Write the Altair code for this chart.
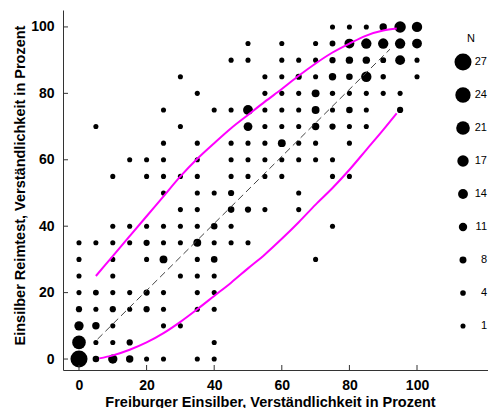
import altair as alt
import pandas as pd

# ---- bubble data: one row per y level (percent), x positions and counts N
row_y = [100, 95, 90, 85, 80, 75, 70, 65, 60, 55, 50, 45, 40, 35, 30, 25, 20, 15, 10, 5, 0]
row_x = [
    [75, 80, 85, 90, 95, 100],
    [50, 60, 70, 75, 80, 85, 90, 95, 100],
    [45, 50, 60, 65, 70, 75, 80, 85, 90, 95, 100],
    [30, 55, 60, 65, 70, 75, 80, 85, 90, 100],
    [35, 55, 60, 65, 70, 75, 80, 85, 90, 95],
    [25, 40, 45, 50, 55, 60, 65, 70, 75, 80, 85, 95],
    [5, 30, 50, 55, 60, 65, 70, 75, 80, 85],
    [25, 35, 45, 50, 55, 60, 65, 70, 80],
    [15, 20, 25, 35, 45, 50, 55, 60, 65, 70, 75],
    [10, 20, 25, 30, 35, 45, 50, 55, 60, 75, 80],
    [25, 35, 40, 45, 65],
    [30, 35, 45, 50, 55, 65],
    [10, 15, 20, 25, 30, 35, 40, 45, 75],
    [0, 5, 10, 15, 20, 25, 30, 35, 40, 45, 50],
    [0, 10, 20, 25, 35, 40, 70],
    [0, 10, 30, 35, 40],
    [0, 5, 10, 15, 20, 25, 35, 40],
    [0, 5, 10, 15, 20, 25, 35, 40],
    [0, 5, 10, 25, 30],
    [0, 5, 10, 15, 40],
    [0, 5, 10, 15, 20, 25, 35, 40],
]
row_n = [
    [1, 1, 1, 9, 17, 15],
    [1, 1, 1, 5, 14, 15, 15, 15, 14],
    [1, 1, 1, 1, 1, 6, 9, 9, 5, 14, 1],
    [1, 1, 1, 6, 1, 9, 7, 15, 3, 1],
    [1, 1, 1, 1, 10, 3, 1, 1, 1, 1],
    [1, 1, 1, 14, 1, 1, 1, 10, 1, 7, 1, 6],
    [1, 1, 12, 1, 1, 1, 9, 6, 1, 1],
    [1, 1, 1, 1, 1, 10, 1, 1, 1],
    [1, 1, 1, 1, 1, 1, 1, 1, 1, 1, 1],
    [1, 1, 1, 1, 1, 1, 1, 1, 1, 1, 1],
    [1, 1, 1, 6, 1],
    [1, 1, 7, 6, 1, 1],
    [1, 1, 1, 1, 1, 1, 7, 1, 1],
    [1, 1, 1, 1, 6, 1, 1, 10, 1, 1, 1],
    [1, 1, 1, 10, 1, 7, 1],
    [1, 1, 1, 1, 1],
    [1, 5, 1, 1, 6, 1, 1, 1],
    [6, 1, 6, 1, 6, 1, 1, 1],
    [13, 9, 1, 1, 1],
    [21, 1, 1, 6, 1],
    [27, 7, 13, 9, 1, 1, 1, 1],
]

# ---- magenta confidence curves
upper_x = [5, 10, 15, 20, 25, 30, 35, 40, 45, 50, 55, 60, 65, 70, 75, 80, 85, 90, 94]
upper_y = [25, 31, 37, 43, 49, 55, 60.3, 65, 69.5, 73.5, 77.5, 81.3, 85.3, 89, 92.3, 95, 97.4, 98.9, 99.5]
lower_x = [6, 10, 15, 20, 25, 30, 35, 40, 45, 50, 55, 60, 65, 70, 75, 80, 85, 90, 94]
lower_y = [0.2, 1.1, 2.8, 5, 7.8, 11.2, 15, 19, 23, 27.3, 31.5, 36.2, 41.2, 46.5, 51.5, 57, 63, 69, 74]

# ---- dashed regression line
diag_x = [5.5, 92]
diag_y = [6, 93.3]

tick_values = [0, 20, 40, 60, 80, 100]
legend_values = [27, 24, 21, 17, 14, 11, 8, 4, 1]

recs = []
for yv, xs, ns in zip(row_y, row_x, row_n):
    for xv, nv in zip(xs, ns):
        recs.append({"x": xv, "y": yv, "n": nv})
pts = pd.DataFrame(recs)

curves = pd.DataFrame(
    [{"x": a, "y": b, "c": "upper", "i": k} for k, (a, b) in enumerate(zip(upper_x, upper_y))]
    + [{"x": a, "y": b, "c": "lower", "i": k} for k, (a, b) in enumerate(zip(lower_x, lower_y))]
)
diag = pd.DataFrame({"x": diag_x, "y": diag_y})
xt = pd.DataFrame({"x": tick_values})
yt = pd.DataFrame({"y": tick_values})

W, H = 425, 360
FONT = "Liberation Sans"

xscale = alt.Scale(domain=[-4.73, 121.0], nice=False, zero=False)
yscale = alt.Scale(domain=[-3.3, 105.1], nice=False, zero=False)

xaxis = alt.Axis(
    title="Freiburger Einsilber, Verständlichkeit in Prozent",
    values=tick_values, format="d", ticks=False, tickSize=0, grid=False,
    labelFont=FONT, labelFontSize=14, labelFontWeight="bold", labelColor="black",
    labelPadding=8, titleFont=FONT, titleFontSize=14.5, titleFontWeight="bold",
    titleColor="black", titlePadding=3, titleX=207, domainColor="#333",
)
yaxis = alt.Axis(
    title="Einsilber Reimtest, Verständlichkeit in Prozent",
    values=tick_values, format="d", ticks=False, tickSize=0, grid=False,
    labelFont=FONT, labelFontSize=14, labelFontWeight="bold", labelColor="black",
    labelPadding=9, titleFont=FONT, titleFontSize=14.5, titleFontWeight="bold",
    titleColor="black", titlePadding=3, titleY=175, domainColor="#333",
)

X = lambda: alt.X("x:Q", scale=xscale, axis=xaxis)
Y = lambda: alt.Y("y:Q", scale=yscale, axis=yaxis)

points = alt.Chart(pts).mark_circle(color="black", opacity=1).encode(
    x=X(), y=Y(),
    size=alt.Size(
        "n:Q",
        scale=alt.Scale(type="pow", exponent=2, domain=[1, 27], range=[26, 290], zero=False),
        legend=alt.Legend(
            title="N", values=legend_values, orient="none", legendX=391, legendY=23,
            direction="vertical", clipHeight=20, rowPadding=13,
            labelAlign="right", labelOffset=15, labelFont=FONT, labelFontSize=11,
            labelColor="black", titleFont=FONT, titleFontSize=11, titleFontWeight="normal",
            titleColor="black", titleAnchor="middle", titlePadding=8,
            symbolFillColor="black", symbolStrokeWidth=0, symbolType="circle",
            symbolOpacity=1, padding=0,
        ),
    ),
)

lines = alt.Chart(curves).mark_line(color="#ff00ff", strokeWidth=2, interpolate="monotone").encode(
    x=X(), y=Y(), detail="c:N", order="i:Q"
)

dashed = alt.Chart(diag).mark_line(color="#444444", strokeWidth=1, strokeDash=[7, 4]).encode(
    x=X(), y=Y()
)

xticks = alt.Chart(xt).mark_rule(color="#333", strokeWidth=1).encode(
    x=X(), y=alt.value(H), y2=alt.value(H - 5)
)
yticks = alt.Chart(yt).mark_rule(color="#333", strokeWidth=1).encode(
    y=Y(), x=alt.value(0), x2=alt.value(5)
)

chart = alt.layer(points, dashed, lines, xticks, yticks).properties(
    width=W, height=H,
    autosize=alt.AutoSizeParams(type="none"),
    padding={"left": 55, "top": 2, "right": 0, "bottom": 38},
    background="white",
).configure_view(strokeWidth=0)

chart.save("out.html", embed_options={"renderer": "svg", "actions": False})
